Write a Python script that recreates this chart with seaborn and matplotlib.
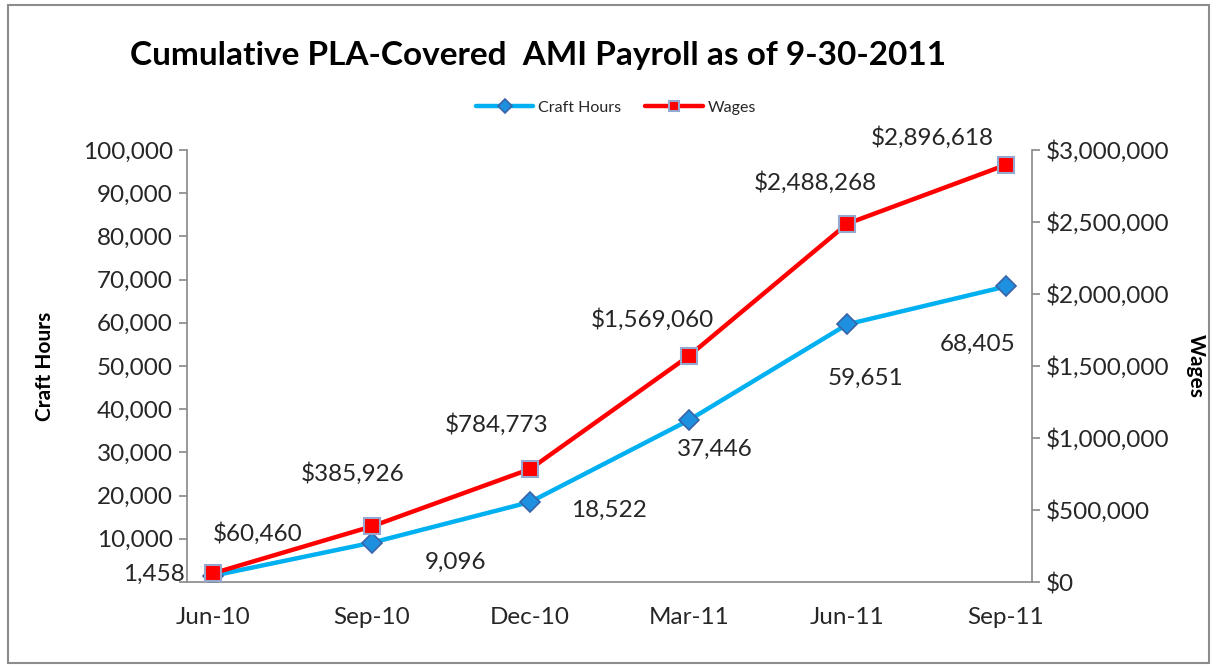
import matplotlib
matplotlib.use("Agg")
import matplotlib.pyplot as plt
import seaborn as sns
import pandas as pd
from matplotlib.patches import Rectangle
from matplotlib.ticker import FuncFormatter, FixedLocator

categories = ["Jun-10", "Sep-10", "Dec-10", "Mar-11", "Jun-11", "Sep-11"]
craft_hours = [1458, 9096, 18522, 37446, 59651, 68405]
wages = [60460, 385926, 784773, 1569060, 2488268, 2896618]
left_ticks = [0, 10000, 20000, 30000, 40000, 50000, 60000, 70000, 80000, 90000, 100000]
right_ticks = [0, 500000, 1000000, 1500000, 2000000, 2500000, 3000000]

sns.set_theme(style="white")
plt.rcParams['font.family'] = ['Lato', 'DejaVu Sans']

df = pd.DataFrame({"x": range(len(categories)), "hours": craft_hours, "wages": wages})

fig = plt.figure(figsize=(12.17, 6.68), dpi=100)
ax = fig.add_axes([187/1217, 1-582/668, (1032-187)/1217, (582-150)/668])
ax2 = ax.twinx()

text_col = "#262626"
spine_col = "#8C8C8C"
fs = 17.5

sns.lineplot(data=df, x="x", y="hours", ax=ax, color="#00B0F0", linewidth=3.2,
             marker="D", markersize=10, markerfacecolor="#1E90E0",
             markeredgecolor="#3A64A8", markeredgewidth=1.2, label="Craft Hours", legend=False)
sns.lineplot(data=df, x="x", y="wages", ax=ax2, color="#FF0000", linewidth=3.2,
             marker="s", markersize=12, markerfacecolor="#FF0000",
             markeredgecolor="#95A8D0", markeredgewidth=1.5, label="Wages", legend=False)

ax.set_xlim(-0.165, 5.165)
ax.set_ylim(0, 100000)
ax2.set_ylim(0, 3000000)
ax.set_xticks(range(len(categories)))
ax.set_xticklabels(categories)
ax.yaxis.set_major_locator(FixedLocator(left_ticks))
ax.yaxis.set_major_formatter(FuncFormatter(lambda v, p: "" if v == 0 else f"{int(v):,}"))
ax2.yaxis.set_major_locator(FixedLocator(right_ticks))
ax2.yaxis.set_major_formatter(FuncFormatter(lambda v, p: f"${int(v):,}"))

for a in (ax, ax2):
    a.set_xlabel("")
    a.tick_params(axis="both", labelsize=fs, colors=text_col)
    for s in a.spines.values():
        s.set_visible(False)
    a.grid(False)
ax.spines["left"].set_visible(True)
ax.spines["left"].set_color(spine_col)
ax.spines["bottom"].set_visible(True)
ax.spines["bottom"].set_color(spine_col)
ax2.spines["right"].set_visible(True)
ax2.spines["right"].set_color(spine_col)
ax.tick_params(axis="y", which="major", left=True, length=6, color=spine_col, pad=4)
ax.tick_params(axis="x", bottom=False, pad=12)
ax2.tick_params(axis="y", which="major", right=True, length=6, color=spine_col, pad=4)
for lbl in ax.get_yticklabels() + ax2.get_yticklabels() + ax.get_xticklabels():
    lbl.set_color(text_col)

ax.set_ylabel("Craft Hours", fontsize=15, fontweight="bold", color="black", labelpad=20)
ax2.set_ylabel("Wages", fontsize=15, fontweight="bold", color="black", rotation=-90, labelpad=26)

# data labels (offsets in points)
hour_offsets = [(-43, 1), (60, -14), (57, -6), (19, -21), (13, -39), (-20, -42)]
wage_offsets = [(32, 29), (-14, 38), (-24, 32), (-26, 26), (-23, 30), (-53, 20)]
for i, v in enumerate(craft_hours):
    ax.annotate(f"{v:,}", (i, v), xytext=hour_offsets[i], textcoords="offset points",
                ha="center", va="center", fontsize=fs, color=text_col)
for i, v in enumerate(wages):
    ax2.annotate(f"${v:,}", (i, v), xytext=wage_offsets[i], textcoords="offset points",
                 ha="center", va="center", fontsize=fs, color=text_col)

fig.text(538/1217, 1-55/668, "Cumulative PLA-Covered  AMI Payroll as of 9-30-2011",
         ha="center", va="center", fontsize=24, fontweight="bold", color="black")

h1, l1 = ax.get_legend_handles_labels()
h2, l2 = ax2.get_legend_handles_labels()
leg = fig.legend(h1 + h2, l1 + l2, loc="center", bbox_to_anchor=(616/1217, 1-108/668), ncol=2,
                 frameon=False, fontsize=11.5, handlelength=3.6, columnspacing=1.5, handletextpad=0.3,
                 labelcolor=text_col)
for lh in leg.legend_handles:
    lh.set_markersize(7)

fig.patches.append(Rectangle((8/1217, 5/668), 1-16/1217, 1-10/668, transform=fig.transFigure,
                             fill=False, edgecolor="#8C8C8C", linewidth=1.5))

fig.savefig("out.png", dpi=100)
